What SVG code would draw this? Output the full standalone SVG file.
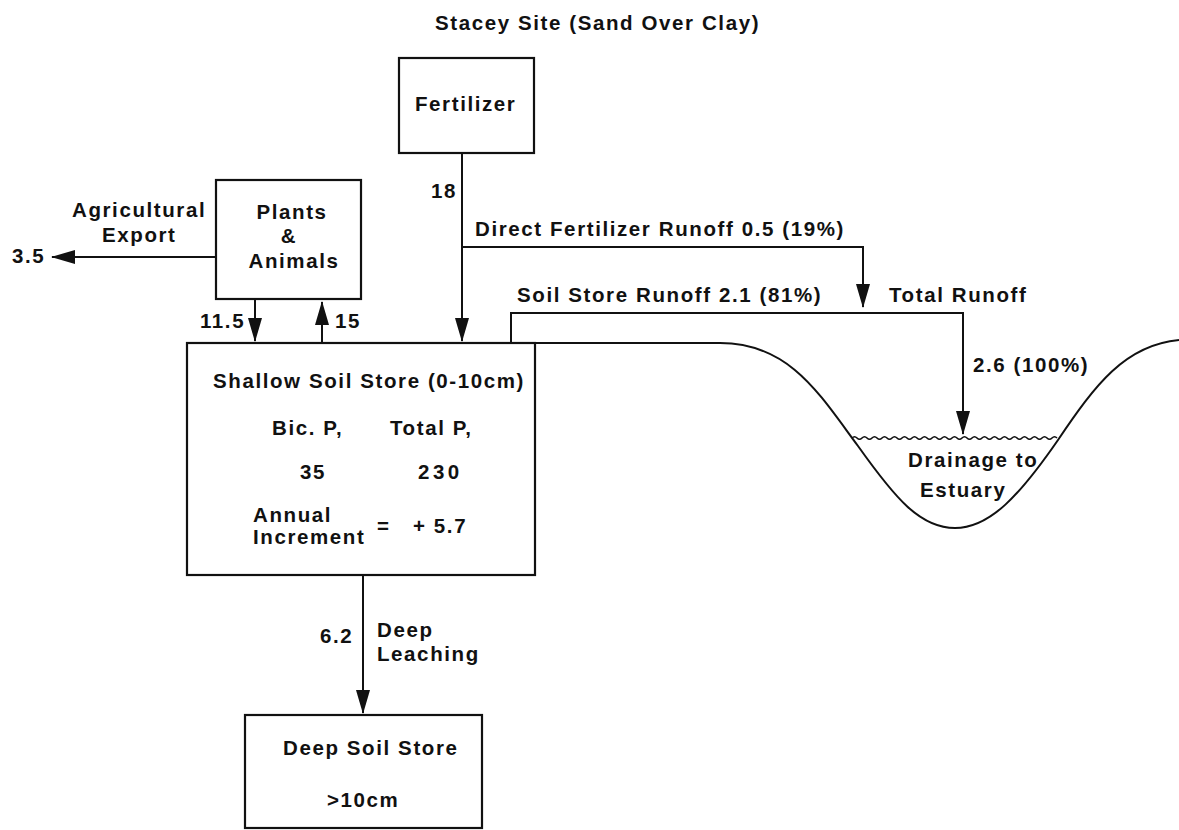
<svg xmlns="http://www.w3.org/2000/svg" width="1179" height="830" viewBox="0 0 1179 830">
<style>
  .t { font-family: "Liberation Sans", Arial, sans-serif; font-weight: bold; font-size: 20.5px; letter-spacing: 1.6px; fill: #111; }
  .box { fill: none; stroke: #111; stroke-width: 2.2; }
  .ln { fill: none; stroke: #111; stroke-width: 2; }
  .arr { fill: none; stroke: #111; stroke-width: 2; marker-end: url(#ah); }
</style>
<defs>
  <marker id="ah" markerUnits="userSpaceOnUse" markerWidth="24" markerHeight="14" refX="23" refY="7" orient="auto">
    <path d="M0,0 L24,7 L0,14 Z" fill="#111"/>
  </marker>
</defs>
<rect width="1179" height="830" fill="#fff"/>

<text class="t" x="435" y="30">Stacey Site (Sand Over Clay)</text>

<g id="fertilizer">
  <rect class="box" x="399" y="58" width="135" height="95"/>
  <text class="t" x="415" y="111">Fertilizer</text>
</g>

<g id="plants">
  <rect class="box" x="216" y="180" width="145" height="119"/>
  <text class="t" x="292" y="219" text-anchor="middle">Plants</text>
  <text class="t" x="289" y="243" text-anchor="middle">&amp;</text>
  <text class="t" x="294" y="268" text-anchor="middle">Animals</text>
</g>

<g id="shallow">
  <rect class="box" x="187" y="343" width="348" height="232"/>
  <text class="t" x="213" y="388">Shallow Soil Store (0-10cm)</text>
  <text class="t" x="272" y="435">Bic. P,</text>
  <text class="t" x="390" y="435">Total P,</text>
  <text class="t" x="300" y="479">35</text>
  <text class="t" x="418" y="479" style="letter-spacing:3.5px">230</text>
  <text class="t" x="253" y="522">Annual</text>
  <text class="t" x="253" y="544">Increment</text>
  <text class="t" x="377" y="533">=</text>
  <text class="t" x="413" y="533">+ 5.7</text>
</g>

<g id="deep">
  <rect class="box" x="245" y="715" width="237" height="113"/>
  <text class="t" x="283" y="755">Deep Soil Store</text>
  <text class="t" x="327" y="807">&gt;10cm</text>
</g>

<g id="drainage">
  <path class="ln" d="M535 343 H720 C790 343 820 395 858 446 C895 498 920 528 955 528 C990 528 1020 495 1058 440 C1095 385 1125 345 1179 340"/>
  <path fill="none" stroke="#111" stroke-width="1.6" d="M852 438 q2.5 -2.5 5 0 t5 0 t5 0 t5 0 t5 0 t5 0 t5 0 t5 0 t5 0 t5 0 t5 0 t5 0 t5 0 t5 0 t5 0 t5 0 t5 0 t5 0 t5 0 t5 0 t5 0 t5 0 t5 0 t5 0 t5 0 t5 0 t5 0 t5 0 t5 0 t5 0 t5 0 t5 0 t5 0 t5 0 t5 0 t5 0 t5 0 t5 0 t5 0 t5 0 t5 0"/>
  <text class="t" x="908" y="467">Drainage to</text>
  <text class="t" x="920" y="497">Estuary</text>
</g>

<g id="connectors">
  <path class="arr" d="M462 153 V341"/>
  <path class="arr" d="M462 247 H863 V307"/>
  <path class="arr" d="M216 257 H52"/>
  <path class="arr" d="M255 299 V341"/>
  <path class="arr" d="M322 343 V302"/>
  <path class="arr" d="M511 343 V313 H963 V434"/>
  <path class="arr" d="M363 575 V713"/>
  <text class="t" x="431" y="198">18</text>
  <text class="t" x="475" y="236">Direct Fertilizer Runoff 0.5 (19%)</text>
  <text class="t" x="517" y="302">Soil Store Runoff 2.1 (81%)</text>
  <text class="t" x="889" y="302">Total Runoff</text>
  <text class="t" x="973" y="372">2.6 (100%)</text>
  <text class="t" x="72" y="217">Agricultural</text>
  <text class="t" x="102" y="242">Export</text>
  <text class="t" x="12" y="263">3.5</text>
  <text class="t" x="200" y="328">11.5</text>
  <text class="t" x="335" y="328">15</text>
  <text class="t" x="320" y="643">6.2</text>
  <text class="t" x="377" y="637">Deep</text>
  <text class="t" x="377" y="661">Leaching</text>
</g>
</svg>
